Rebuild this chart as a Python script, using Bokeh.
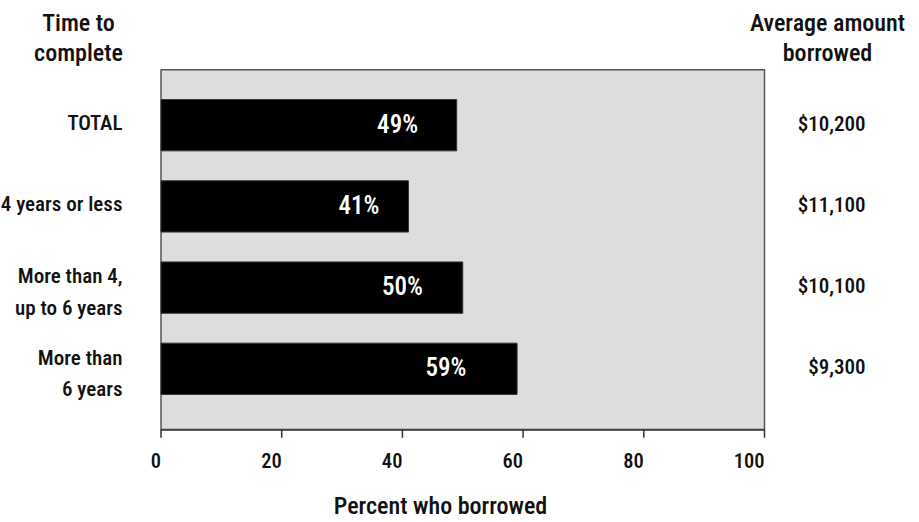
from bokeh.plotting import figure
from bokeh.models import Range1d, ColumnDataSource
from bokeh.core.properties import value
from bokeh.embed import file_html
from bokeh.resources import INLINE

# Share of students who borrowed, by time taken to complete
categories = ["TOTAL", "4 years or less", "More than 4,\nup to 6 years", "More than\n6 years"]
pct_borrowed = [49, 41, 50, 59]
avg_amount = ["$10,200", "$11,100", "$10,100", "$9,300"]
x_ticks = [0, 20, 40, 60, 80, 100]
left_header = ["Time to", "complete"]
right_header = ["Average amount", "borrowed"]
x_title = "Percent who borrowed"

FONT = value("Roboto Condensed Medium, Roboto Condensed SemiBold, Roboto Condensed, sans-serif")
INK = "#111111"

def base(px, size):
    """Offset that puts a text glyph's alphabetic baseline at `px` pixels."""
    return px - 0.39 * size

# Canvas geometry: the frame covers the whole page; data units are laid out so
# that 0..100 percent spans the grey panel and each row is one y unit.
W, H = 919, 522
X0, XK = 160.5, 6.035      # pixel of 0 %, pixels per percent
Y0, RK = 124.7, 81.2       # pixel of first row centre, pixels per row

x_range = Range1d(-X0 / XK, (W - X0) / XK)
y_range = Range1d((H - Y0) / RK, -Y0 / RK)

def px_x(px):
    return (px - X0) / XK

def px_y(px):
    return (px - Y0) / RK

panel_top = px_y(69.3)
panel_bottom = px_y(429.3)

p = figure(width=W, height=H, x_range=x_range, y_range=y_range,
           output_backend="svg", toolbar_location=None,
           x_axis_type=None, y_axis_type=None, min_border=0,
           outline_line_color=None, background_fill_color="white",
           border_fill_color="white")
p.grid.visible = False

# grey plotting panel
p.quad(left=[0], right=[100], top=[panel_top], bottom=[panel_bottom],
       fill_color="#dddddd", line_color="#555555", line_width=1.5)

rows = list(range(len(categories)))

# bars with their value printed inside
bars = ColumnDataSource(dict(y=rows, v=pct_borrowed,
                             lx=[0.8 * v for v in pct_borrowed],
                             lab=[f"{v}%" for v in pct_borrowed]))
p.hbar(y="y", left=0, right="v", height=51.3 / RK, source=bars,
       fill_color="black", line_color="#333333", line_width=1)
p.text(x="lx", y="y", text="lab", source=bars, text_font=FONT,
       text_font_size="25px", text_color="white", text_align="center",
       text_baseline="alphabetic", y_offset=base(8.6, 25))

# bottom axis: line, ticks and labels
p.segment(x0=[0], x1=[100], y0=[panel_bottom], y1=[panel_bottom],
          line_color="#444444", line_width=2)
ticks = ColumnDataSource(dict(x=x_ticks, y0=[panel_bottom] * len(x_ticks),
                              y1=[panel_bottom + 8 / RK] * len(x_ticks),
                              lab=[str(t) for t in x_ticks]))
p.segment(x0="x", x1="x", y0="y0", y1="y1", source=ticks,
          line_color="#333333", line_width=1.5)
p.text(x="x", y="y0", text="lab", source=ticks, text_font=FONT,
       text_font_size="20.5px", text_color=INK, text_align="right",
       text_baseline="alphabetic", y_offset=base(38.5, 20.5))
p.text(x=[px_x(440)], y=[panel_bottom], text=[x_title], text_font=FONT,
       text_font_size="24px", text_color=INK, text_align="center",
       text_baseline="alphabetic", y_offset=base(86, 24))

# category labels on the left, one glyph per line
lx, ly, loff, ltxt = [], [], [], []
for i, cat in enumerate(categories):
    lines = cat.split("\n")
    n = len(lines)
    for j, line in enumerate(lines):
        lx.append(px_x(122))
        ly.append(i)
        loff.append(base(6 + j * 31.5 - (n - 1) * 9, 21))
        ltxt.append(line)
p.text(x="x", y="y", text="t", y_offset="o",
       source=ColumnDataSource(dict(x=lx, y=ly, o=loff, t=ltxt)),
       text_font=FONT, text_font_size="21px", text_color=INK,
       text_align="right", text_baseline="alphabetic")

# average amounts on the right
p.text(x=[px_x(865)] * len(rows), y=rows, text=avg_amount, text_font=FONT,
       text_font_size="21px", text_color=INK, text_align="right",
       text_baseline="alphabetic", y_offset=base(6.5, 21))

# column headers
top = y_range.end
for cx, lines in ((78, left_header), (827, right_header)):
    p.text(x=[px_x(cx)] * len(lines), y=[top] * len(lines), text=lines,
           y_offset=[base(32, 24), base(61.5, 24)], text_font=FONT,
           text_font_size="24px", text_color=INK, text_align="center",
           text_baseline="alphabetic")

open("out.html", "w").write(file_html(p, INLINE))
